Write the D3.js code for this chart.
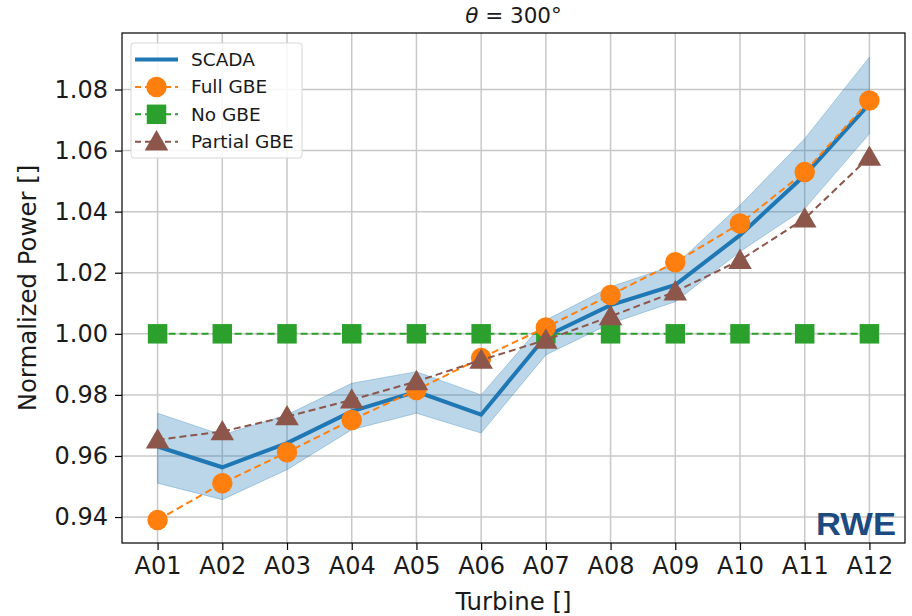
<!DOCTYPE html>
<html>
<head>
<meta charset="utf-8">
<script src="https://cdn.jsdelivr.net/npm/d3@7"></script>
<style>
  body { margin: 0; background: #fff; }
  text { font-family: "DejaVu Sans", sans-serif; }
</style>
</head>
<body>
<div id="chart"></div>
<script>
const turbines = ['A01','A02','A03','A04','A05','A06','A07','A08','A09','A10','A11','A12']

const scada =      [0.9631, 0.9563, 0.9642, 0.9746, 0.9811, 0.9735, 0.9992, 1.0094, 1.0160, 1.0323, 1.0519, 1.0753]
const scadaUpper = [0.9740, 0.9669, 0.9735, 0.9838, 0.9876, 0.9800, 1.0045, 1.0154, 1.0225, 1.0421, 1.0639, 1.0906]
const scadaLower = [0.9511, 0.9457, 0.9555, 0.9686, 0.9740, 0.9675, 0.9931, 1.0034, 1.0105, 1.0269, 1.0410, 1.0655]
const fullGBE =    [0.9390, 0.9511, 0.9612, 0.9718, 0.9816, 0.9921, 1.0021, 1.0127, 1.0234, 1.0361, 1.0530, 1.0764]
const noGBE =      [1.0, 1.0, 1.0, 1.0, 1.0, 1.0, 1.0, 1.0, 1.0, 1.0, 1.0, 1.0]
const partialGBE = [0.9653, 0.9680, 0.9729, 0.9784, 0.9844, 0.9914, 0.9980, 1.0057, 1.0138, 1.0241, 1.0377, 1.0579]

const yTicks = [0.94, 0.96, 0.98, 1.00, 1.02, 1.04, 1.06, 1.08]

const width = 912, height = 616
const margin = {top: 33, bottom: 73, left: 122, right: 7}

const svg = d3.select('#chart')
  .append('svg')
  .attr('width', width)
  .attr('height', height)

const xScale = d3.scaleLinear()
  .domain([-0.55, turbines.length - 1 + 0.55])
  .range([margin.left, width - margin.right])

const yScale = d3.scaleLinear()
  .domain([0.9315, 1.0985])
  .range([height - margin.bottom, margin.top])

const grid = svg.append('g')
const plot = svg.append('g')
const axes = svg.append('g')

// grid
grid.selectAll('.vgrid')
  .data(turbines)
  .enter()
  .append('line')
  .attr('x1', (d,i) => xScale(i)).attr('x2', (d,i) => xScale(i))
  .attr('y1', margin.top).attr('y2', height - margin.bottom)
  .attr('stroke', '#c8c8c8').attr('stroke-width', 1.5)

grid.selectAll('.hgrid')
  .data(yTicks)
  .enter()
  .append('line')
  .attr('y1', d => yScale(d)).attr('y2', d => yScale(d))
  .attr('x1', margin.left).attr('x2', width - margin.right)
  .attr('stroke', '#c8c8c8').attr('stroke-width', 1.5)

// band
const area = d3.area()
  .x((d, i) => xScale(i))
  .y0((d, i) => yScale(scadaLower[i]))
  .y1((d, i) => yScale(scadaUpper[i]))

plot.append('path')
  .attr('d', area(scada))
  .attr('fill', '#1f77b4')
  .attr('fill-opacity', 0.3)
  .attr('stroke', '#1f77b4')
  .attr('stroke-opacity', 0.3)

const line = d3.line()
  .x((d, i) => xScale(i))
  .y(d => yScale(d))

const series = [
  {name: 'SCADA', values: scada, colour: '#1f77b4', width: 4, dash: null, marker: null},
  {name: 'Full GBE', values: fullGBE, colour: '#ff7f0e', width: 2, dash: '7,4', marker: 'circle'},
  {name: 'No GBE', values: noGBE, colour: '#2ca02c', width: 2, dash: '7,4', marker: 'square'},
  {name: 'Partial GBE', values: partialGBE, colour: '#8c564b', width: 2, dash: '7,4', marker: 'triangle'}
]

const symbols = {
  circle: d3.symbol().type(d3.symbolCircle).size(330),
  square: d3.symbol().type(d3.symbolSquare).size(380),
  triangle: d3.symbol().type(d3.symbolTriangle).size(240)
}

function drawSeries(s) {
  plot.append('path')
    .attr('d', line(s.values))
    .attr('fill', 'none')
    .attr('stroke', s.colour)
    .attr('stroke-width', s.width)
    .attr('stroke-dasharray', s.dash)
  if (s.marker) {
    plot.selectAll('.m-' + s.marker)
      .data(s.values)
      .enter()
      .append('path')
      .attr('d', symbols[s.marker])
      .attr('transform', (d, i) => `translate(${xScale(i)},${yScale(d) + (s.marker === 'triangle' ? 2 : 0)})`)
      .attr('fill', s.colour)
  }
}

drawSeries(series[2])
drawSeries(series[0])
drawSeries(series[1])
drawSeries(series[3])

// axes frame
axes.append('rect')
  .attr('x', margin.left).attr('y', margin.top)
  .attr('width', width - margin.left - margin.right)
  .attr('height', height - margin.top - margin.bottom)
  .attr('fill', 'none').attr('stroke', '#000').attr('stroke-width', 1.2)

const xAxis = d3.axisBottom(xScale)
  .tickValues(d3.range(turbines.length))
  .tickFormat(i => turbines[i])
  .tickSize(7).tickPadding(7)

const yAxis = d3.axisLeft(yScale)
  .tickValues(yTicks)
  .tickFormat(d3.format('.2f'))
  .tickSize(7).tickPadding(7)

const gx = axes.append('g')
  .attr('transform', `translate(0,${height - margin.bottom})`)
  .call(xAxis)
const gy = axes.append('g')
  .attr('transform', `translate(${margin.left},0)`)
  .call(yAxis)

;[gx, gy].forEach(g => {
  g.select('.domain').remove()
  g.selectAll('line').attr('stroke', '#000').attr('stroke-width', 1.2)
  g.selectAll('text')
    .style('font-family', '"DejaVu Sans", sans-serif')
    .style('font-size', '24px')
    .attr('fill', '#1a1a1a')
})

svg.append('text')
  .attr('x', (margin.left + width - margin.right) / 2)
  .attr('y', 23)
  .attr('text-anchor', 'middle')
  .style('font-size', '21.5px')
  .attr('fill', '#1a1a1a')
  .html('<tspan font-style="italic">θ</tspan> = 300°')

svg.append('text')
  .attr('x', (margin.left + width - margin.right) / 2)
  .attr('y', 610)
  .attr('text-anchor', 'middle')
  .style('font-size', '24.4px')
  .attr('fill', '#1a1a1a')
  .text('Turbine []')

svg.append('text')
  .attr('transform', `translate(36,${(margin.top + height - margin.bottom) / 2}) rotate(-90)`)
  .attr('text-anchor', 'middle')
  .style('font-size', '24.4px')
  .attr('fill', '#1a1a1a')
  .text('Normalized Power []')

// legend
const legend = svg.append('g').attr('transform', 'translate(131,43)')
legend.append('rect')
  .attr('width', 171).attr('height', 115).attr('rx', 3)
  .attr('fill', '#fff').attr('fill-opacity', 0.85)
  .attr('stroke', '#d6d6d6')

series.forEach((s, i) => {
  const g = legend.append('g').attr('transform', `translate(0,${16.5 + i * 27.4})`)
  g.append('line')
    .attr('x1', 4).attr('x2', 47)
    .attr('stroke', s.colour)
    .attr('stroke-width', s.width)
    .attr('stroke-dasharray', s.dash ? '6,4' : null)
  if (s.marker) {
    g.append('path')
      .attr('d', symbols[s.marker])
      .attr('transform', `translate(25.5,${s.marker === 'triangle' ? 2 : 0})`)
      .attr('fill', s.colour)
  }
  g.append('text')
    .attr('x', 60).attr('y', 6.5)
    .style('font-size', '18.5px')
    .attr('fill', '#1a1a1a')
    .text(s.name)
})

// logo
svg.append('text')
  .attr('x', 816).attr('y', 534.5)
  .attr('textLength', 80)
  .attr('lengthAdjust', 'spacingAndGlyphs')
  .style('font-family', '"Liberation Sans", Arial, sans-serif')
  .style('font-weight', 'bold')
  .style('font-size', '30.5px')
  .attr('fill', '#1d4a80')
  .text('RWE')
</script>
</body>
</html>
